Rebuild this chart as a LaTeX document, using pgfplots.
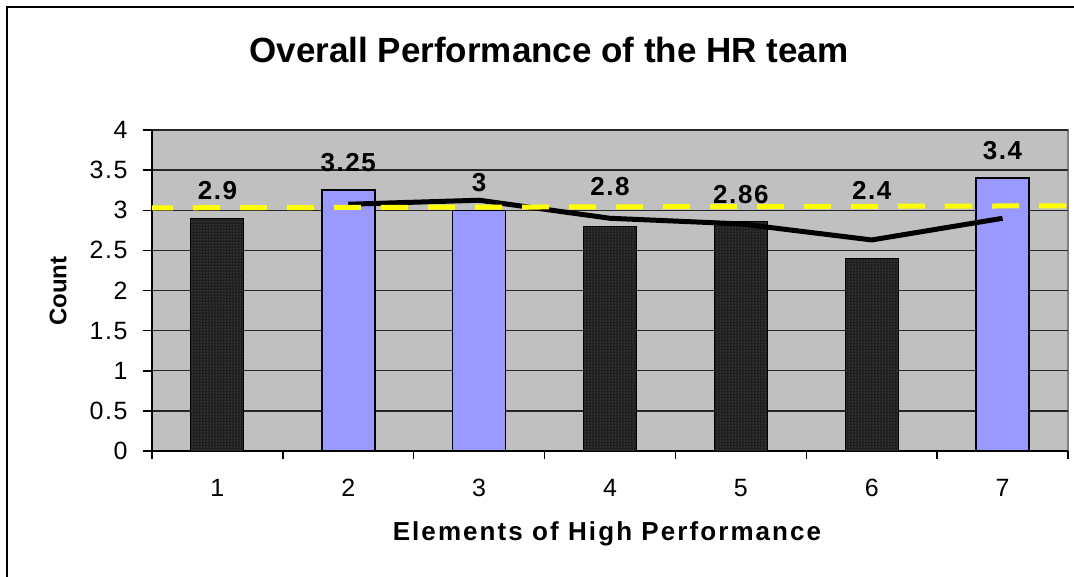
\documentclass[border=0pt]{standalone}
\usepackage{fontspec}
\setmainfont{Liberation Sans}
\usepackage{pgfplots}
\pgfplotsset{compat=1.18}
\usetikzlibrary{patterns}
\definecolor{plotgray}{HTML}{C0C0C0}
\definecolor{bordergray}{HTML}{808080}
\definecolor{barblue}{HTML}{9999FF}
\definecolor{lineyellow}{HTML}{FFFF00}
\begin{document}
\begin{tikzpicture}
\clip (0pt,0pt) rectangle (1074pt,-576pt);
\fill[white] (0pt,0pt) rectangle (1074pt,-576pt);
\draw[line width=2pt] (7pt,-590pt) -- (7pt,-7pt) -- (1090pt,-7pt);
\begin{axis}[
  at={(152pt,-451pt)}, anchor=south west,
  scale only axis, width=916pt, height=321pt,
  xmin=0.5, xmax=7.5, ymin=0, ymax=4,
  axis background/.style={fill=plotgray, draw=bordergray, line width=1.2pt},
  axis x line*=bottom, axis y line*=left,
  axis line style={line width=1.5pt, black, -},
  xtick={1,...,7},
  major x tick style={draw=none},
  minor xtick={0.5,1.5,...,7.5},
  minor tick length=8pt,
  ytick={0,0.5,...,4},
  major tick length=9pt,
  tick align=outside,
  tick style={line width=1.5pt, black},
  ymajorgrids, major grid style={line width=1.3pt, black!85},
  /pgf/number format/assume math mode=true,
  tick label style={font=\fontsize{25}{28}\selectfont\addfontfeature{LetterSpace=6}},
  yticklabel style={xshift=-12pt},
  xticklabel style={yshift=-16pt},
  clip=false,
]
\addplot[ybar, bar width=53pt, bar shift=0pt, fill=black!88, draw=black, line width=1pt,
  postaction={pattern=dots, pattern color=black!50}]
  coordinates {(1,2.9) (4,2.8) (5,2.86) (6,2.4)};
\addplot[ybar, bar width=53pt, bar shift=0pt, fill=barblue, draw=black, line width=1.5pt]
  coordinates {(2,3.25) (3,3.0) (7,3.4)};
\addplot[black, line width=5pt, mark=none]
  coordinates {(2,3.075) (3,3.125) (4,2.9) (5,2.83) (6,2.63) (7,2.9)};
\addplot[lineyellow, line width=5pt, dash pattern=on 27pt off 20pt, dash phase=6pt, mark=none]
  coordinates {(0.5,3.03) (7.5,3.055)};
\addplot[draw=none, mark=none, nodes near coords, point meta=explicit symbolic,
  every node near coord/.style={anchor=center, font=\fontsize{26}{28}\bfseries\selectfont\addfontfeature{LetterSpace=6}, inner sep=0pt}]
  coordinates {(1,3.25)[2.9] (2,3.595)[3.25] (3,3.35)[3] (4,3.30)[2.8] (5,3.20)[2.86] (6,3.25)[2.4] (7,3.75)[3.4]};
\end{axis}
\node[font=\fontsize{35}{40}\bfseries\selectfont, anchor=center] at (549pt,-50pt) {Overall Performance of the HR team};
\node[font=\fontsize{26}{28}\bfseries\selectfont\addfontfeature{LetterSpace=8}, anchor=center] at (607pt,-534pt) {Elements of High Performance};
\node[font=\fontsize{24}{28}\bfseries\selectfont, anchor=center, rotate=90] at (58pt,-291pt) {Count};
\end{tikzpicture}
\end{document}
